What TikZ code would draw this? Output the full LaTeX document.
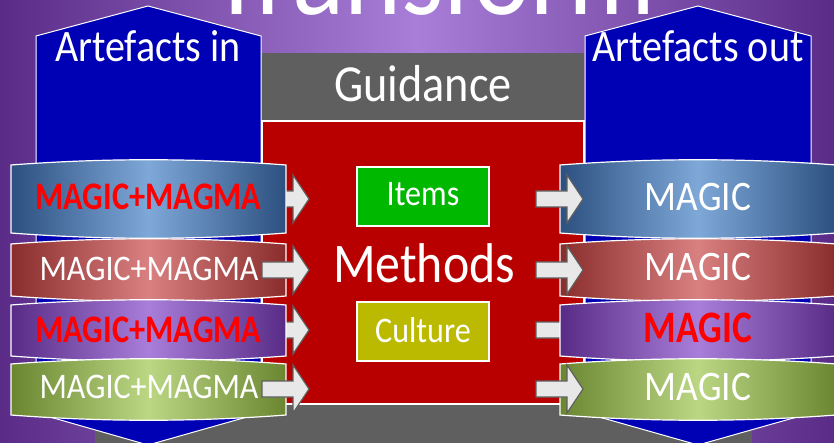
\documentclass[tikz,border=0pt]{standalone}
\usepackage{fontspec}
\setmainfont{Carlito}[FakeStretch=0.89]
\newfontfamily\boldnarrow{Carlito}[FakeStretch=0.83]
\definecolor{bgdark}{HTML}{5A2C88}
\definecolor{bglight}{HTML}{A87ED8}
\definecolor{bannerblue}{HTML}{0000B4}
\definecolor{guidegray}{HTML}{5F5F5F}
\definecolor{methred}{HTML}{B80000}
\definecolor{itemgreen}{HTML}{00B800}
\definecolor{cultolive}{HTML}{BBBA00}
\definecolor{arrowfill}{HTML}{E8E8E8}
\definecolor{arrowline}{HTML}{5F5F5F}
\definecolor{bluedark}{HTML}{2C5080}
\definecolor{bluelight}{HTML}{7EA8D8}
\definecolor{reddark}{HTML}{8A2C2C}
\definecolor{redlight}{HTML}{D98080}
\definecolor{purpdark}{HTML}{582C86}
\definecolor{purplight}{HTML}{A87EDA}
\definecolor{greendark}{HTML}{6B8630}
\definecolor{greenlight}{HTML}{BBD784}
\definecolor{magicred}{HTML}{FF0000}
\tikzset{
  banner/.style={fill=bannerblue, draw=white, line width=1pt},
  bandline/.style={draw=white, line width=1.2pt},
  blueband/.style={bandline, left color=bluedark, right color=bluedark, middle color=bluelight},
  redband/.style={bandline, left color=reddark, right color=reddark, middle color=redlight},
  purpband/.style={bandline, left color=purpdark, right color=purpdark, middle color=purplight},
  greenband/.style={bandline, left color=greendark, right color=greendark, middle color=greenlight},
  arrowstyle/.style={fill=arrowfill, draw=arrowline, line width=1.2pt, line join=miter},
  blockarrow/.pic={\filldraw[arrowstyle] (-47,-8) -- (-16,-8) -- (-16,-24) -- (0,0) -- (-16,24) -- (-16,8) -- (-47,8) -- cycle;},
  lbl/.style={text=white, inner sep=0pt, anchor=base},
  magicw/.style={lbl, font=\fontsize{36}{36}\selectfont},
  magicr/.style={lbl, text=magicred, font=\boldnarrow\bfseries\fontsize{39}{39}\selectfont},
  magicwr/.style={lbl, font=\fontsize{42}{42}\selectfont},
  magicrr/.style={lbl, text=magicred, font=\boldnarrow\bfseries\fontsize{45}{45}\selectfont},
  boxstyle/.style={draw=white, line width=1.2pt, minimum width=132pt, minimum height=59pt, inner sep=0pt}
}
\newcommand\bandshape[5]{%
  \path[#1] (#2,#4) .. controls ($(#2,#4)+(92,-7)$) and ($(#3,#4)+(-92,-7)$) .. (#3,#4)
    -- (#3,#5) .. controls ($(#3,#5)+(-92,7)$) and ($(#2,#5)+(92,7)$) .. (#2,#5) -- cycle;}
\usetikzlibrary{calc}
\begin{document}
\begin{tikzpicture}[x=1pt,y=-1pt]
\clip (0,0) rectangle (834,443);
% background
\fill[left color=bgdark, right color=bgdark, middle color=bglight] (0,0) rectangle (834,443);
\node[lbl, font=\fontsize{122}{122}\selectfont] (title) at (433,15) {Transform};
% bottom gray
\fill[guidegray] (95,404) rectangle (752,450);
% banners
\draw[banner] (36,36) -- (148,6) -- (261,36) -- (261,413) -- (148,445) -- (36,413) -- cycle;
\draw[banner] (585,36) -- (698,6) -- (811,36) -- (811,413) -- (698,445) -- (585,413) -- cycle;
\node[lbl, font=\fontsize{45}{45}\selectfont] (artin) at (148,62) {Artefacts in};
\node[lbl, font=\fontsize{45}{45}\selectfont] (artout) at (698,62) {Artefacts out};
% centre
\fill[guidegray] (262,53) rectangle (584,121);
\filldraw[fill=methred, draw=white, line width=1.2pt] (262,121) rectangle (584,404);
\node[lbl, font=\fontsize{52}{52}\selectfont] (guidance) at (423,102) {Guidance};
\node[lbl, font=\fontsize{56}{56}\selectfont] (methods) at (424,283) {Methods};
\node[boxstyle, fill=itemgreen] (itemsbox) at (423,196.5) {};
\node[lbl, font=\fontsize{36}{36}\selectfont] (items) at (423,206) {Items};
\node[boxstyle, fill=cultolive] (culturebox) at (423,331.5) {};
\node[lbl, font=\fontsize{36}{36}\selectfont] (culture) at (423,342) {Culture};
% arrows under bands
\pic at (309,199) {blockarrow};
\pic at (309,330) {blockarrow};
\pic at (583,330) {blockarrow};
% bands left
\bandshape{blueband}{11}{286}{165}{233}
\bandshape{redband}{11}{286}{244}{296}
\bandshape{purpband}{11}{286}{305}{356}
\bandshape{greenband}{11}{286}{364}{415}
% bands right
\bandshape{blueband}{560}{836}{165}{233}
\bandshape{redband}{560}{836}{244}{296}
\bandshape{purpband}{560}{836}{305}{356}
\bandshape{greenband}{560}{836}{364}{415}
% arrows over bands
\pic at (309,270) {blockarrow};
\pic at (309,389) {blockarrow};
\pic at (583,199) {blockarrow};
\pic at (583,270) {blockarrow};
\pic at (583,389) {blockarrow};
% band texts
\node[magicr] (in1) at (148.5,210) {MAGIC+MAGMA};
\node[magicw] (in2) at (149,280) {MAGIC+MAGMA};
\node[magicr] (in3) at (148.5,342) {MAGIC+MAGMA};
\node[magicw] (in4) at (149,398) {MAGIC+MAGMA};
\node[magicwr] (out1) at (698,211) {MAGIC};
\node[magicwr] (out2) at (698,280) {MAGIC};
\node[magicrr] (out3) at (698,342) {MAGIC};
\node[magicwr] (out4) at (698,400) {MAGIC};
\end{tikzpicture}
\end{document}
